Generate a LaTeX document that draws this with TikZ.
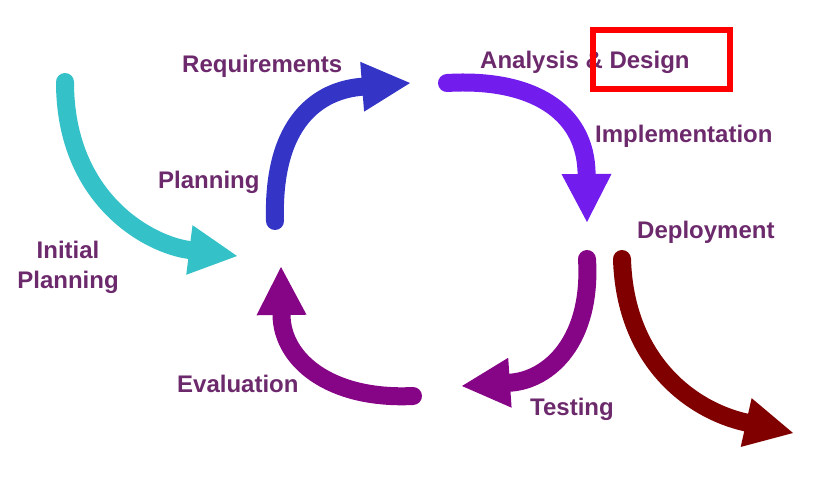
\documentclass[tikz,border=0pt]{standalone}
\usepackage{fontspec}
\setmainfont{Liberation Sans}
\usepackage{xcolor}
\usetikzlibrary{arrows.meta,positioning}

\definecolor{lblpurple}{RGB}{108,42,108}
\definecolor{ipteal}{RGB}{52,194,200}
\definecolor{reqblue}{RGB}{52,52,198}
\definecolor{anaviolet}{RGB}{114,28,238}
\definecolor{testpurple}{RGB}{134,4,134}
\definecolor{depred}{RGB}{128,0,0}

\tikzset{
  lbl/.style={font=\fontsize{24}{30}\selectfont\bfseries, text=lblpurple, inner sep=0pt},
  flow/.style={line width=18pt, line cap=round,
    -{Triangle[length=48pt,width=50pt,line width=0pt]}},
  markbox/.style={draw=red, line width=6pt, inner sep=0pt}
}

\begin{document}
\begin{tikzpicture}[x=1pt,y=-1pt]
    \useasboundingbox (0,0) rectangle (826,490);

    % Arrow ends
    \coordinate (ip-s) at (65,82);   \coordinate (ip-t) at (237,256);
    \coordinate (rq-s) at (275,221); \coordinate (rq-t) at (410,83);
    \coordinate (an-s) at (447,83);  \coordinate (an-t) at (587,222);
    \coordinate (ts-s) at (587,259); \coordinate (ts-t) at (462,386);
    \coordinate (dp-s) at (622,259); \coordinate (dp-t) at (793,433);
    \coordinate (ev-s) at (413,396); \coordinate (ev-t) at (281,267);

    % Arrows
    \draw[flow, ipteal] (ip-s) .. controls (65,200) and (150,245) .. (ip-t);
    \draw[flow, reqblue] (rq-s) .. controls (272,120) and (320,90) .. (rq-t);
    \draw[flow, anaviolet] (an-s) .. controls (530,78) and (586,110) .. (an-t);
    \draw[flow, testpurple] (ts-s) .. controls (592,340) and (550,380) .. (ts-t);
    \draw[flow, depred] (dp-s) .. controls (625,360) and (690,410) .. (dp-t);
    \draw[flow, testpurple] (ev-s) .. controls (330,400) and (282,360) .. (ev-t);

    % Labels
    \node[lbl, anchor=base west] (req) at (182,72) {Requirements};
    \node[lbl, anchor=base west] (plan) at (158,188) {Planning};
    \node[lbl, align=center] (init) at (68,267) {Initial\\Planning};
    \node[lbl, anchor=base west] (ana) at (480,68) {Analysis \& Design};
    \node[lbl, anchor=base west] (impl) at (595,142) {Implementation};
    \node[lbl, anchor=base west] (dep) at (637,238) {Deployment};
    \node[lbl, anchor=base west] (test) at (530,415) {Testing};
    \node[lbl, anchor=base west] (eval) at (177,392) {Evaluation};

    % Highlight
    \node[markbox, minimum width=137pt, minimum height=59pt] (mark) at (661.5,59.5) {};
\end{tikzpicture}
\end{document}
